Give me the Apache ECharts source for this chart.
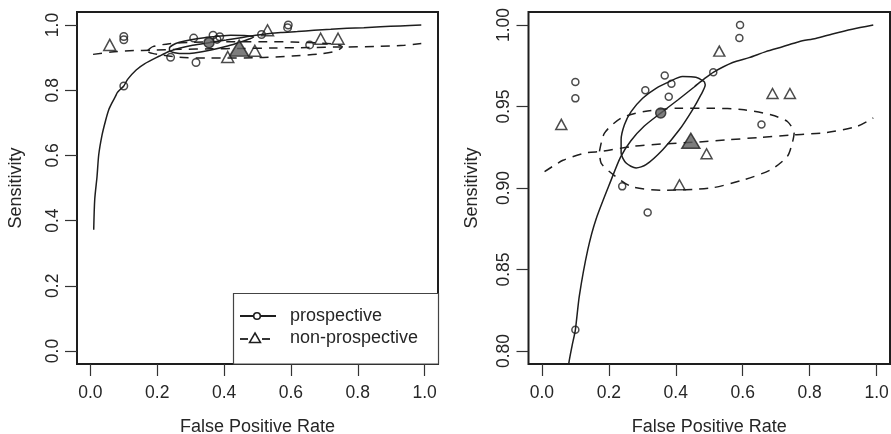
<!DOCTYPE html>
<html>
<head>
<meta charset="utf-8">
<script src="https://cdn.jsdelivr.net/npm/echarts@6/dist/echarts.min.js"></script>
<style>
  html, body { margin: 0; padding: 0; background: #fff; }
  #chart { width: 891px; height: 434px; }
</style>
</head>
<body>
<div id="chart"></div>
<script>
// Study-level estimates (false positive rate, sensitivity)
const prospectiveFpr  = [0.100, 0.100, 0.100, 0.309, 0.367, 0.387, 0.379, 0.512, 0.592, 0.590, 0.656, 0.240, 0.316];
const prospectiveSens = [0.965, 0.955, 0.813, 0.960, 0.969, 0.964, 0.956, 0.971, 1.000, 0.992, 0.939, 0.901, 0.885];
const nonProspectiveFpr  = [0.058, 0.530, 0.689, 0.741, 0.492, 0.411];
const nonProspectiveSens = [0.939, 0.984, 0.958, 0.958, 0.921, 0.902];

// Summary operating points
const summaryProspective    = [0.355, 0.946];
const summaryNonProspective = [0.445, 0.929];

// SROC curves
const srocProspectiveFpr  = [0.010, 0.013, 0.020, 0.025, 0.035, 0.045, 0.055, 0.065, 0.075, 0.0805, 0.090, 0.100, 0.112, 0.137, 0.162, 0.207, 0.235, 0.266, 0.306, 0.355, 0.406, 0.455, 0.485, 0.512, 0.570, 0.619, 0.669, 0.719, 0.768, 0.818, 0.868, 0.927, 0.990];
const srocProspectiveSens = [0.372, 0.464, 0.536, 0.602, 0.663, 0.705, 0.740, 0.762, 0.781, 0.7925, 0.803, 0.813, 0.834, 0.862, 0.881, 0.905, 0.919, 0.929, 0.938, 0.946, 0.954, 0.962, 0.967, 0.971, 0.977, 0.980, 0.9837, 0.9867, 0.9898, 0.9918, 0.9945, 0.9974, 1.000];
const srocNonProspectiveFpr  = [0.008, 0.063, 0.130, 0.180, 0.270, 0.360, 0.450, 0.550, 0.650, 0.755, 0.850, 0.940, 0.990];
const srocNonProspectiveSens = [0.910, 0.917, 0.9215, 0.9225, 0.9255, 0.927, 0.928, 0.9295, 0.931, 0.9327, 0.934, 0.9377, 0.943];

// 95% confidence regions around the summary points
const regionProspectiveFpr  = [0.485, 0.460, 0.420, 0.381, 0.341, 0.301, 0.2665, 0.2466, 0.2367, 0.2367, 0.2516, 0.2815, 0.311, 0.361, 0.4106, 0.450, 0.475, 0.488, 0.485];
const regionProspectiveSens = [0.9653, 0.968, 0.9684, 0.9653, 0.9612, 0.9551, 0.9469, 0.9388, 0.9296, 0.9215, 0.9153, 0.9123, 0.9143, 0.9235, 0.9357, 0.948, 0.9571, 0.9633, 0.9653];
const regionNonProspectiveFpr  = [0.172, 0.187, 0.2367, 0.306, 0.4055, 0.505, 0.604, 0.684, 0.7335, 0.7535, 0.748, 0.7335, 0.684, 0.604, 0.505, 0.356, 0.2665, 0.207, 0.177, 0.172];
const regionNonProspectiveSens = [0.9224, 0.9337, 0.9429, 0.9469, 0.949, 0.949, 0.948, 0.9449, 0.9408, 0.9337, 0.9276, 0.9194, 0.9112, 0.9051, 0.900, 0.8986, 0.901, 0.9092, 0.9153, 0.9224];

// Tick labels
const fprTicks = [0.0, 0.2, 0.4, 0.6, 0.8, 1.0];
const sensTicksFull = [0.0, 0.2, 0.4, 0.6, 0.8, 1.0];
const sensTicksZoom = [0.80, 0.85, 0.90, 0.95, 1.00];

const FONT = '"Liberation Sans", Arial, Helvetica, sans-serif';
const INK = '#1e1e1e';
const TEXT = '#262626';

const pairs = (xs, ys) => xs.map((x, i) => [x, ys[i]]);

function xAxisFor(g) {
  return {
    type: 'value', gridIndex: g, min: -0.04, max: 1.04, position: 'bottom',
    name: 'False Positive Rate', nameLocation: 'middle', nameGap: 54,
    nameTextStyle: { fontSize: 18, color: TEXT, fontFamily: FONT },
    axisLine: { show: false, onZero: false }, splitLine: { show: false },
    axisTick: { show: true, inside: false, length: 12, customValues: fprTicks,
                lineStyle: { color: '#333', width: 1.2 } },
    axisLabel: { customValues: fprTicks, formatter: v => v.toFixed(1), margin: 20,
                 fontSize: 17.5, color: TEXT, fontFamily: FONT }
  };
}

function yAxisFor(g, min, max, ticks, digits, margin, nameGap) {
  return {
    type: 'value', gridIndex: g, min: min, max: max, position: 'left',
    name: 'Sensitivity', nameLocation: 'middle', nameGap: nameGap, nameRotate: 90,
    nameTextStyle: { fontSize: 18, color: TEXT, fontFamily: FONT },
    axisLine: { show: false, onZero: false }, splitLine: { show: false },
    axisTick: { show: true, inside: false, length: 12, customValues: ticks,
                lineStyle: { color: '#333', width: 1.2 } },
    axisLabel: { customValues: ticks, formatter: v => v.toFixed(digits), rotate: 90,
                 margin: margin, fontSize: 17.5, color: TEXT, fontFamily: FONT }
  };
}

function curve(g, xs, ys, dashed, z) {
  return {
    type: 'line', xAxisIndex: g, yAxisIndex: g, data: pairs(xs, ys),
    showSymbol: false, symbol: 'none', smooth: 0.25, z: z || 2,
    lineStyle: { color: INK, width: 1.5, type: dashed ? [9, 7] : 'solid' }
  };
}

function points(g, data, symbol, size, fill, z) {
  return {
    type: 'scatter', xAxisIndex: g, yAxisIndex: g, data: data,
    symbol: symbol, symbolSize: size, z: z || 3,
    itemStyle: { color: fill, borderColor: INK, borderWidth: 1.5 }
  };
}

function panelSeries(g, circleSize, triSize, sumCircle, sumTri) {
  return [
    curve(g, srocProspectiveFpr, srocProspectiveSens, false),
    curve(g, srocNonProspectiveFpr, srocNonProspectiveSens, true),
    curve(g, regionProspectiveFpr, regionProspectiveSens, false),
    curve(g, regionNonProspectiveFpr, regionNonProspectiveSens, true),
    points(g, pairs(prospectiveFpr, prospectiveSens), 'circle', circleSize, 'rgba(0,0,0,0)'),
    points(g, pairs(nonProspectiveFpr, nonProspectiveSens), 'triangle', triSize, 'rgba(0,0,0,0)'),
    points(g, [summaryProspective], 'circle', sumCircle, '#5c5c5c', 4),
    points(g, [summaryNonProspective], 'triangle', sumTri, '#5c5c5c', 4)
  ];
}

const chart = echarts.init(document.getElementById('chart'), null, { renderer: 'canvas' });

chart.setOption({
  animation: false,
  backgroundColor: '#fff',
  textStyle: { fontFamily: FONT },
  grid: [
    { left: 77, top: 12, width: 361, height: 352, outerBoundsMode: 'none', containLabel: false,
      show: true, borderColor: INK, borderWidth: 2, backgroundColor: 'transparent' },
    { left: 528.5, top: 12, width: 361.5, height: 352, outerBoundsMode: 'none', containLabel: false,
      show: true, borderColor: INK, borderWidth: 2, backgroundColor: 'transparent' }
  ],
  xAxis: [xAxisFor(0), xAxisFor(1)],
  yAxis: [
    yAxisFor(0, -0.04, 1.04, sensTicksFull, 1, 15, 52),
    yAxisFor(1, 0.792, 1.008, sensTicksZoom, 2, 15, 47)
  ],
  series: [].concat(
    panelSeries(0, 7.5, [12, 11], 10, [19, 16]),
    panelSeries(1, 7, [11, 10], 10, [18, 15])
  ),
  graphic: [
    { type: 'rect', z: 10, shape: { x: 233.5, y: 293.5, width: 205, height: 70.5 },
      style: { fill: '#fff', stroke: '#444', lineWidth: 1.2 } },
    { type: 'line', z: 11, shape: { x1: 240, y1: 316, x2: 276, y2: 316 },
      style: { stroke: INK, lineWidth: 2 } },
    { type: 'circle', z: 12, shape: { cx: 257, cy: 316, r: 3.3 },
      style: { fill: '#fff', stroke: INK, lineWidth: 1.6 } },
    { type: 'line', z: 11, shape: { x1: 240, y1: 339, x2: 248, y2: 339 },
      style: { stroke: INK, lineWidth: 1.8 } },
    { type: 'line', z: 11, shape: { x1: 262, y1: 339, x2: 270, y2: 339 },
      style: { stroke: INK, lineWidth: 1.8 } },
    { type: 'polygon', z: 12, shape: { points: [[255, 333], [260.5, 342.5], [249.5, 342.5]] },
      style: { fill: '#fff', stroke: INK, lineWidth: 1.5 } },
    { type: 'text', z: 12, x: 290, y: 316,
      style: { text: 'prospective', fill: TEXT, font: '18px ' + FONT, verticalAlign: 'middle' } },
    { type: 'text', z: 12, x: 290, y: 338,
      style: { text: 'non-prospective', fill: TEXT, font: '18px ' + FONT, verticalAlign: 'middle' } }
  ]
});
</script>
</body>
</html>
